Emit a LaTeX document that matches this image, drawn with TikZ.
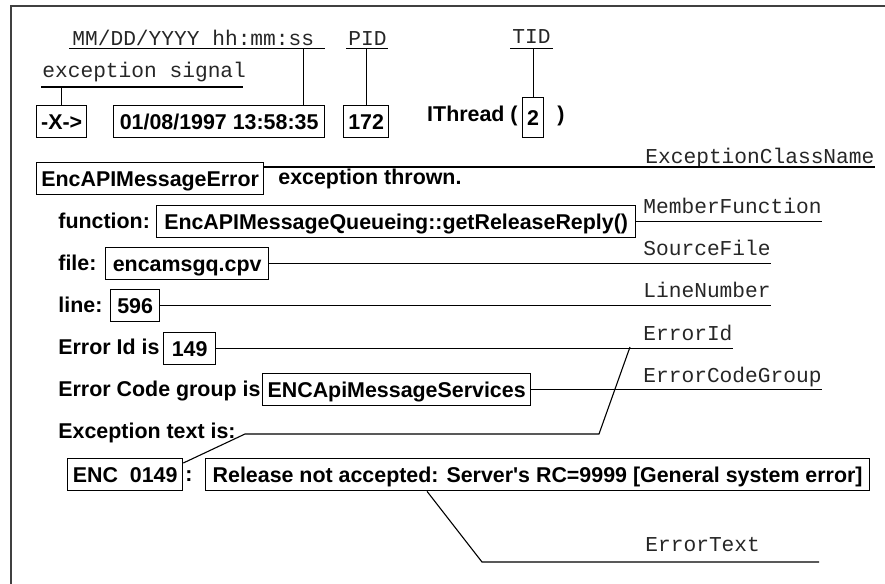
\documentclass[tikz,border=0pt]{standalone}
\usepackage{fontspec}
\newfontfamily\hvsans{Liberation Sans}
\newfontfamily\hvmono{Liberation Mono}
\usetikzlibrary{calc}

\begin{document}
\begin{tikzpicture}[
		x=0.5pt, y=-0.5pt,
		font=\hvsans\bfseries\fontsize{10.7}{12}\selectfont,
		box/.style={draw, line width=0.65pt, anchor=north west, inner sep=0pt,
				minimum height=16pt, text height=7.7pt, text depth=0pt},
		txt/.style={anchor=west, inner sep=0pt, text height=7.7pt, text depth=0pt},
		tag/.style={anchor=base west, inner sep=0pt, text=black!85,
				font=\hvmono\fontsize{10.6}{12}\selectfont},
		ul/.style={line width=0.6pt},
		lnk/.style={line width=0.55pt}
		]
		\useasboundingbox (0,0) rectangle (885,584);
		\draw[line width=1.2pt, black!75] (11,584) -- (11,6) -- (885,6);

		% header line
		\node[box, minimum width=25pt] (sig) at (36,105) {-X->};
		\node[box, minimum width=105.5pt] (date) at (113,105) {01/08/1997 13:58:35};
		\node[box, minimum width=22.5pt] (pid) at (343,105) {172};
		\node[box, minimum width=10.5pt, minimum height=20pt] (tid) at (522,97) {2};
		\node[txt, anchor=east] (thr) at (518,114) {IThread (};
		\node[txt] (thrend) at (557,114) {)};

		\node[tag] (tdate) at (72,45) {MM/DD/YYYY hh:mm:ss};
		\node[tag] (tpid) at (348,45) {PID};
		\node[tag] (ttid) at (512,43.5) {TID};
		\node[tag] (tsig) at (42,77) {exception signal};

		\coordinate (dA) at (69,48.5);
		\coordinate (dB) at (325,48.5);
		\coordinate (pA) at (346,48.5);
		\coordinate (pB) at (388,48.5);
		\coordinate (tA) at (510,48.5);
		\coordinate (tB) at (553,48.5);
		\coordinate (sA) at (41,87);
		\coordinate (sB) at (243,87);
		\draw[ul] (dA) -- (dB);
		\draw[ul] (pA) -- (pB);
		\draw[ul] (tA) -- (tB);
		\draw[ul] (sA) -- (sB);
		\draw[lnk] ([xshift=-11pt]date.north east) -- ([xshift=-11pt]date.north east |- dB);
		\draw[lnk] (pid.north) -- (pid.north |- pB);
		\draw[lnk] (tid.north) -- (tid.north |- tB);
		\draw[lnk] (sig.north) -- (sig.north |- sB);

		% exception body
		\node[box, minimum width=113.5pt] (cls) at (36,162) {EncAPIMessageError};
		\node[txt] (thrown) at (278,177) {exception thrown.};
		\node[txt] (lfn) at (58,221) {function:};
		\node[box, minimum width=239.5pt] (fn) at (156,205)
		{EncAPIMessageQueueing::getReleaseReply()};
		\node[txt] (lfile) at (58,263) {file:};
		\node[box, minimum width=81.5pt] (file) at (105,247) {encamsgq.cpv};
		\node[txt] (lline) at (58,305) {line:};
		\node[box, minimum width=24.5pt] (line) at (110,289) {596};
		\node[txt] (leid) at (58,347) {Error Id is};
		\node[box, minimum width=26pt] (eid) at (163,332) {149};
		\node[txt] (lgrp) at (58,389) {Error Code group is};
		\node[box, minimum width=134pt] (grp) at (262,373) {ENCApiMessageServices};
		\node[txt] (lexc) at (58,431) {Exception text is:};
		\node[box, minimum width=57.5pt] (code) at (67,458) {ENC~~0149};
		\node[txt] (colon) at (185,474) {:};
		\node[box, minimum width=332pt] (msg) at (205,458)
		{Release not accepted: Server\textquotesingle s RC=9999 [General system error]};

		\node[tag] (tcls) at (645,163) {ExceptionClassName};
		\node[tag] (tfn) at (643,213) {MemberFunction};
		\node[tag] (tfile) at (643,255) {SourceFile};
		\node[tag] (tline) at (643,297) {LineNumber};
		\node[tag] (teid) at (643,340) {ErrorId};
		\node[tag] (tgrp) at (643,382) {ErrorCodeGroup};
		\node[tag] (tmsg) at (645,551) {ErrorText};

		\coordinate (c0) at ([yshift=-2.5pt]cls.north east);
		\draw[lnk] (c0) -- (c0 -| tcls.east);
		\draw[lnk] (fn.east) -- (fn.east -| tfn.east);
		\draw[lnk] (file.east) -- (file.east -| tfile.east);
		\draw[lnk] (line.east) -- (line.east -| tline.east);
		\draw[lnk] (eid.east) -- (eid.east -| teid.east);
		\draw[lnk] (grp.east) -- (grp.east -| tgrp.east);

		\coordinate (k1) at (245,434);
		\coordinate (k2) at (599,434);
		\coordinate (k3) at (630,347);
		\draw[lnk] ([yshift=-2.5pt]code.north east) -- (k1) -- (k2) -- (k3);

		\coordinate (m1) at (482,562);
		\coordinate (m2) at (819,562);
		\draw[lnk] ([xshift=111pt]msg.south west) -- (m1) -- (m2);
	\end{tikzpicture}
\end{document}
